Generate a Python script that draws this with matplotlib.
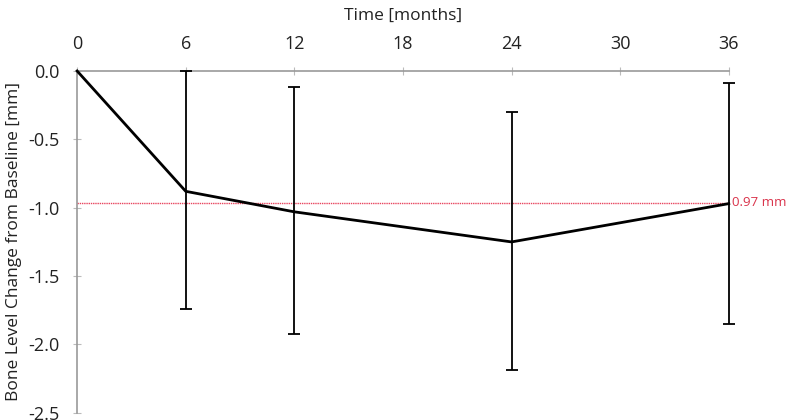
import matplotlib.pyplot as plt
import numpy as np

# data
months = [0, 6, 12, 24, 36]
mean_change = [0.0, -0.88, -1.03, -1.25, -0.97]
err_low = [0.0, 0.86, 0.89, 0.94, 0.88]
err_high = [0.0, 0.88, 0.91, 0.95, 0.88]
ref_level = -0.965
ref_label = "0.97 mm"

plt.rcParams['font.family'] = ['Open Sans', 'DejaVu Sans']

fig = plt.figure(figsize=(7.87, 4.2), dpi=100)
ax = fig.add_axes([0.098, 0.017, 0.828, 0.814])

# error bars only at follow-up times
eb = ax.errorbar(months[1:], mean_change[1:], yerr=[err_low[1:], err_high[1:]],
                 fmt='none', ecolor='black', elinewidth=1.3, capsize=4, capthick=1.3, zorder=3)
for art in eb.lines[1] + eb.lines[2]:
    art.set_clip_on(False)
ax.plot(months, mean_change, color='black', lw=2, zorder=4, clip_on=False)

ax.axhline(ref_level, color='#e8455f', lw=1.0, ls=(0, (1, 0.6)), zorder=2)
ax.text(36.2, ref_level, ref_label, color='#d9324a', fontsize=9.5, va='center', ha='left')

ax.set_xlim(0, 36)
ax.set_ylim(-2.5, 0)
ax.set_xticks([0, 6, 12, 18, 24, 30, 36])
ax.set_yticks(np.arange(-2.5, 0.01, 0.5))
ax.set_yticklabels(['%.1f' % v for v in np.arange(-2.5, 0.01, 0.5)])

ax.xaxis.tick_top()
ax.xaxis.set_label_position('top')
ax.set_xlabel('Time [months]', fontsize=12.5, labelpad=11, color='#222222')
ax.set_ylabel('Bone Level Change from Baseline [mm]', fontsize=12.5, labelpad=4, color='#222222')

for s in ['bottom', 'right']:
    ax.spines[s].set_visible(False)
for s in ['top', 'left']:
    ax.spines[s].set_color('#999999')
    ax.spines[s].set_linewidth(1.2)

ax.tick_params(axis='both', direction='inout', length=6, color='#bbbbbb',
               labelsize=13, labelcolor='#222222')
ax.tick_params(axis='x', pad=10)
ax.tick_params(axis='y', pad=10)

fig.savefig('out.png', dpi=100)
